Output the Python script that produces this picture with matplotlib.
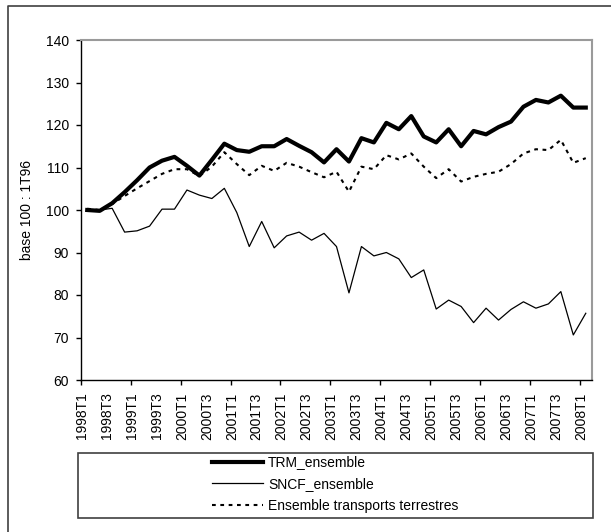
import numpy as np
import matplotlib
matplotlib.use('Agg')
import matplotlib.pyplot as plt
import matplotlib.transforms as mtransforms
from matplotlib.lines import Line2D
from matplotlib.patches import Rectangle

plt.rcParams['font.family'] = ['Liberation Sans', 'DejaVu Sans']
plt.rcParams['font.size'] = 10

# Donnees trimestrielles 1998T1 - 2008T1 (base 100 : 1T96)
trm = [100.0, 99.8, 101.6, 104.2, 107.0, 110.0, 111.6, 112.5, 110.4, 108.1,
       111.8, 115.6, 114.1, 113.7, 115.0, 115.0, 116.7, 115.1, 113.6, 111.2,
       114.3, 111.4, 116.9, 115.9, 120.5, 119.0, 122.1, 117.3, 115.9, 119.0,
       115.0, 118.6, 117.8, 119.5, 120.8, 124.3, 125.9, 125.3, 126.9, 124.1,
       124.1]
sncf = [100.0, 100.0, 100.4, 94.8, 95.1, 96.2, 100.2, 100.2, 104.7, 103.5,
        102.7, 105.1, 99.4, 91.4, 97.3, 91.1, 93.9, 94.8, 92.9, 94.5,
        91.4, 80.5, 91.4, 89.2, 90.0, 88.5, 84.1, 85.9, 76.7, 78.8,
        77.3, 73.5, 76.9, 74.1, 76.6, 78.4, 76.9, 77.9, 80.8, 70.6,
        75.7]
ensemble = [100.3, 100.0, 101.4, 103.3, 105.1, 106.8, 108.5, 109.6, 109.6, 108.0,
            110.2, 113.6, 110.8, 108.2, 110.4, 109.2, 111.1, 110.2, 108.9, 107.7,
            109.0, 104.3, 110.2, 109.6, 112.9, 111.9, 113.3, 110.2, 107.5, 109.6,
            106.7, 107.8, 108.5, 109.0, 110.8, 113.3, 114.3, 114.1, 116.5, 111.1,
            112.2]
tick_labels = ['1998T1', '1998T3', '1999T1', '1999T3', '2000T1', '2000T3',
               '2001T1', '2001T3', '2002T1', '2002T3', '2003T1', '2003T3',
               '2004T1', '2004T3', '2005T1', '2005T3', '2006T1', '2006T3',
               '2007T1', '2007T3', '2008T1']

W, H = 611, 532
x = np.arange(len(trm))

fig = plt.figure(figsize=(W/100, H/100), dpi=100)
ax = fig.add_axes([81/W, (H-380)/H, (592-81)/W, (380-40)/H])

l1, = ax.plot(x, trm, '-', color='black', linewidth=3.0, label='TRM_ensemble', zorder=3)
l2, = ax.plot(x, sncf, '-', color='black', linewidth=0.9, label='SNCF_ensemble', zorder=2)
l3, = ax.plot(x, ensemble, color='black', linewidth=1.5, linestyle=(0, (1.8, 2.2)),
              label='Ensemble transports terrestres', zorder=2)

ax.set_xlim(-0.5, len(trm)-0.5)
ax.set_ylim(60, 140)
ax.set_yticks(np.arange(60, 141, 10))
ax.tick_params(axis='y', direction='out', length=3.5, width=1, pad=5, labelsize=10)

# labels tous les 2 trimestres, graduations tous les 4
ax.set_xticks(np.arange(0, len(trm), 2))
ax.set_xticklabels(tick_labels, rotation=90, fontsize=10)
ax.tick_params(axis='x', which='major', length=0, pad=9)
ax.set_xticks(np.arange(-0.5, len(trm)-1, 4), minor=True)
ax.tick_params(axis='x', which='minor', direction='out', length=3.5, width=1)
shift = mtransforms.ScaledTranslation(-5/100, 0, fig.dpi_scale_trans)
for lab in ax.get_xticklabels():
    lab.set_transform(lab.get_transform() + shift)

ax.set_ylabel('base 100 : 1T96', fontsize=10)
ax.yaxis.set_label_coords(-47/511, 0.5)

for s in ['top', 'right']:
    ax.spines[s].set_color('#9a9a9a')
    ax.spines[s].set_linewidth(1.5)
for s in ['left', 'bottom']:
    ax.spines[s].set_color('black')
    ax.spines[s].set_linewidth(1.0)

# legende sous le graphique
fig.patches.append(Rectangle((78/W, (H-518)/H), (593-78)/W, (518-453)/H,
                             transform=fig.transFigure, fill=False,
                             edgecolor='#404040', linewidth=1.2))
fig.legend(handles=[l1, l2, l3], loc='center', frameon=False,
           bbox_to_anchor=(335/W, (H-484)/H), handlelength=3.7,
           handletextpad=0.35, labelspacing=0.55, borderpad=0, fontsize=10)

# cadre de la zone de graphique
fig.lines.append(Line2D([8/W, 8/W, 1.0], [0.0, (H-6)/H, (H-6)/H],
                        transform=fig.transFigure, color='#404040', linewidth=1.2))

fig.savefig('out.png', dpi=100)
